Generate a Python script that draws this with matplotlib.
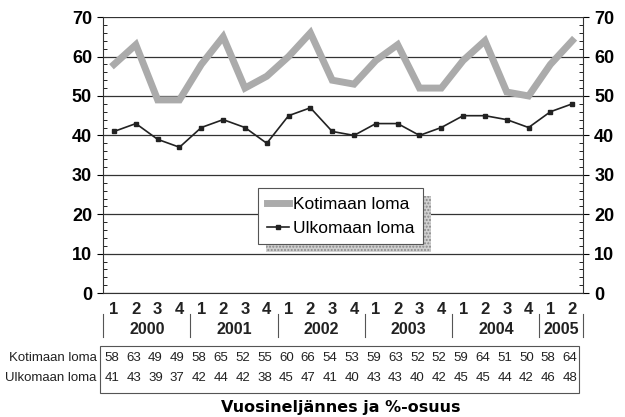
import matplotlib
matplotlib.use('agg')
import matplotlib.pyplot as plt
import matplotlib.ticker as plticker
from matplotlib.patches import Rectangle
from matplotlib.lines import Line2D

plt.rcParams['font.family'] = ['Liberation Sans', 'DejaVu Sans']

# data
quarters = ['1', '2', '3', '4'] * 5 + ['1', '2']
years = ['2000', '2001', '2002', '2003', '2004', '2005']
year_len = [4, 4, 4, 4, 4, 2]
kotimaan = [58, 63, 49, 49, 58, 65, 52, 55, 60, 66, 54, 53,
            59, 63, 52, 52, 59, 64, 51, 50, 58, 64]
ulkomaan = [41, 43, 39, 37, 42, 44, 42, 38, 45, 47, 41, 40,
            43, 43, 40, 42, 45, 45, 44, 42, 46, 48]
series_names = ['Kotimaan loma', 'Ulkomaan loma']

fig = plt.figure(figsize=(6.25, 4.17), dpi=100)
ax = fig.add_axes([0.165, 0.297, 0.768, 0.662])

x = [i + 0.5 for i in range(len(kotimaan))]
ax.plot(x, kotimaan, color='#ababab', lw=5, solid_joinstyle='miter',
        label=series_names[0])
ax.plot(x, ulkomaan, color='#222222', lw=1.2, marker='s', markersize=3.5,
        label=series_names[1])

ax.set_xlim(0, len(kotimaan))
ax.set_ylim(0, 70)
ax.yaxis.set_major_locator(plticker.MultipleLocator(10))
ax.yaxis.set_minor_locator(plticker.MultipleLocator(2))
ax.grid(True, axis='y', color='#333333', lw=0.9)
ax.set_axisbelow(True)
ax.set_xticks([])
ax.tick_params(axis='y', which='major', labelsize=13, length=4,
               left=True, right=True, labelright=True, width=0.8, pad=4)
ax.tick_params(axis='y', which='minor', direction='in', length=3,
               left=True, right=True, width=0.6)
for t in ax.yaxis.get_major_ticks():
    t.label1.set_fontweight('bold')
    t.label2.set_fontweight('bold')
ax.spines['top'].set_visible(False)
for side in ['left', 'right', 'bottom']:
    ax.spines[side].set_color('#333333')

tr = ax.get_xaxis_transform()
# quarter labels
for xi, q in zip(x, quarters):
    ax.text(xi, -0.058, q, transform=tr, ha='center', va='center',
            fontsize=12, fontweight='bold', color='#222222')

# year labels with separators
start = 0
for yr, n in zip(years, year_len):
    ax.add_line(Line2D([start, start], [-0.075, -0.16], transform=tr,
                       color='#555555', lw=0.8, clip_on=False))
    ax.text(start + n / 2, -0.13, yr, transform=tr, ha='center', va='center',
            fontsize=11.5, fontweight='bold', color='#222222')
    start += n
ax.add_line(Line2D([start, start], [-0.075, -0.16], transform=tr,
                   color='#555555', lw=0.8, clip_on=False))

# data table
ax.add_patch(Rectangle((-0.15, -0.362), len(kotimaan) - 0.05, 0.17,
                       transform=tr, fill=False, edgecolor='#555555',
                       lw=0.8, clip_on=False))
for row_y, name, vals in [(-0.236, series_names[0], kotimaan),
                          (-0.308, series_names[1], ulkomaan)]:
    ax.text(-0.3, row_y, name, transform=tr, ha='right', va='center',
            fontsize=9.5, color='#222222')
    for xi, v in zip(x, vals):
        ax.text(xi - 0.1, row_y, str(v), transform=tr, ha='center',
                va='center', fontsize=9.5, color='#222222')

fig.text(0.545, 0.022, 'Vuosineljännes ja %-osuus', ha='center',
         va='center', fontsize=11.5, fontweight='heavy', family='DejaVu Sans')

# legend with hatched shadow
leg = ax.legend(loc='upper left', bbox_to_anchor=(258 / 625, 1 - 188 / 417),
                bbox_transform=fig.transFigure, fancybox=False, fontsize=12.5,
                handlelength=1.3, handletextpad=0.2, borderpad=0.5,
                borderaxespad=0, labelspacing=0.5, framealpha=1,
                edgecolor='#555555')
leg.get_frame().set_linewidth(0.8)
leg.set_zorder(6)
fig.canvas.draw()
bb = leg.get_window_extent().transformed(fig.transFigure.inverted())
shadow = Rectangle((bb.x0 + 8 / 625, bb.y0 - 8 / 417), bb.width, bb.height,
                   transform=fig.transFigure, facecolor='#d0d0d0',
                   edgecolor='#8a8a8a', lw=0, hatch='.....', zorder=5,
                   clip_on=False)
ax.add_patch(shadow)

fig.savefig('out.png', dpi=100)
